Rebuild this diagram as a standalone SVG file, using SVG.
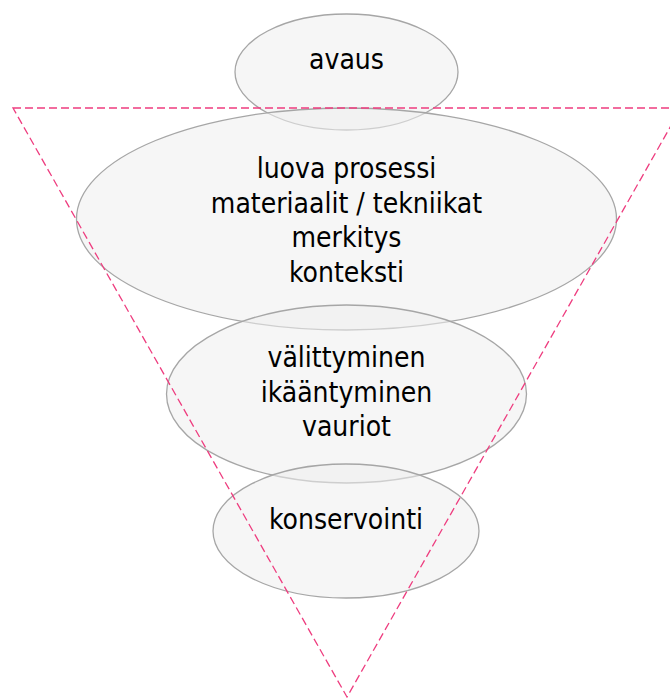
<svg xmlns="http://www.w3.org/2000/svg" width="670" height="700" viewBox="0 0 670 700">
<style>
.n{fill:#efefef;fill-opacity:0.55;stroke:#a6a6a6;stroke-width:1.3}
.t{font-family:"DejaVu Sans Condensed","DejaVu Sans",Tahoma,sans-serif;font-stretch:condensed;font-size:28px;fill:#000;text-anchor:middle}
.tri{fill:none;stroke:#ee3d7f;stroke-width:1.3;stroke-dasharray:8 4}
</style>
<rect width="670" height="700" fill="#fff"/>
<g id="avaus">
<ellipse class="n" cx="346.5" cy="72" rx="111.5" ry="58"/>
<text class="t" x="346.5" y="69">avaus</text>
</g>
<g id="luova">
<ellipse class="n" cx="346.5" cy="219" rx="270" ry="111"/>
<text class="t" x="346.5" y="178">luova prosessi</text>
<text class="t" x="346.5" y="213">materiaalit / tekniikat</text>
<text class="t" x="346.5" y="247">merkitys</text>
<text class="t" x="346.5" y="282">konteksti</text>
</g>
<g id="valittyminen">
<ellipse class="n" cx="346.5" cy="394" rx="180" ry="89"/>
<text class="t" x="346.5" y="367">välittyminen</text>
<text class="t" x="346.5" y="402">ikääntyminen</text>
<text class="t" x="346.5" y="436">vauriot</text>
</g>
<g id="konservointi">
<ellipse class="n" cx="346" cy="531" rx="133" ry="67"/>
<text class="t" x="346" y="529">konservointi</text>
</g>
<g id="connectors">
<polygon class="tri" points="13,108 681,108 347,697"/>
</g>
</svg>
